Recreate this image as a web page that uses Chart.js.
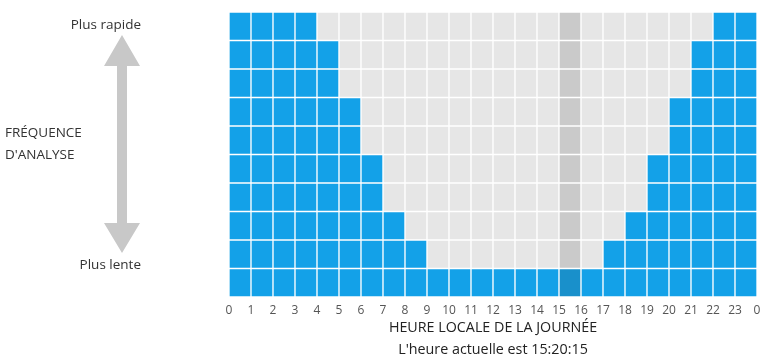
<!DOCTYPE html>
<html>
<head>
<meta charset="utf-8">
<script src="https://cdn.jsdelivr.net/npm/chart.js@4"></script>
<style>
  html, body { margin: 0; padding: 0; background: #fff; }
  #wrap { width: 772px; height: 359px; }
</style>
</head>
<body>
<div id="wrap"><canvas id="chart" width="772" height="359"></canvas></div>
<script>
// heures 0..23 et niveau de fréquence (nombre de cases bleues) pour chaque heure
const hours = [0, 1, 2, 3, 4, 5, 6, 7, 8, 9, 10, 11, 12, 13, 14, 15, 16, 17, 18, 19, 20, 21, 22, 23];
const scanLevels = [10, 10, 10, 10, 9, 7, 5, 3, 2, 1, 1, 1, 1, 1, 1, 1, 1, 2, 3, 5, 7, 9, 10, 10];
const tickLabels = ['0', '1', '2', '3', '4', '5', '6', '7', '8', '9', '10', '11', '12', '13', '14', '15', '16', '17', '18', '19', '20', '21', '22', '23', '0'];
const rowCount = 10;
const currentHour = 15;
const axisTitle = ['HEURE LOCALE DE LA JOURNÉE', "L'heure actuelle est 15:20:15"];

const FONT = "'Open Sans', 'Noto Sans', sans-serif";

// une série par rangée de cases
const datasets = [];
for (let r = 0; r < rowCount; r++) {
  datasets.push({
    data: hours.map(h => ({ x: h + 0.5, y: 1 })),
    backgroundColor: hours.map(h => {
      const on = r < scanLevels[h];
      if (h === currentHour) return on ? '#1990cb' : '#cacaca';
      return on ? '#13a1e8' : '#e6e6e6';
    }),
    borderColor: hours.map(h => (r < scanLevels[h] ? 'rgba(255,255,255,0.6)' : 'rgba(255,255,255,0.9)')),
    borderWidth: 1,
    borderSkipped: false,
    barPercentage: 1,
    categoryPercentage: 1,
  });
}

// texte, flèche à gauche et titre de l'axe
const labelsPlugin = {
  id: 'labelsPlugin',
  afterDraw(chart) {
    const ctx = chart.ctx;
    const area = chart.chartArea;
    ctx.save();
    ctx.fillStyle = '#333';
    ctx.font = '13.5px ' + FONT;
    ctx.textBaseline = 'middle';
    ctx.textAlign = 'right';
    ctx.fillText('Plus rapide', 141, 25);
    ctx.fillText('Plus lente', 141, 265);
    ctx.textAlign = 'left';
    ctx.fillText('FRÉQUENCE', 5, 133);
    ctx.fillText("D'ANALYSE", 5, 155);

    // titre sous l'axe des heures
    ctx.textAlign = 'center';
    ctx.fillStyle = '#222';
    ctx.font = '14.3px ' + FONT;
    const mid = (area.left + area.right) / 2;
    ctx.fillText(axisTitle[0], mid, area.bottom + 31);
    ctx.fillText(axisTitle[1], mid, area.bottom + 53);

    // flèche double
    const cx = 122;
    ctx.fillStyle = '#c8c8c8';
    ctx.beginPath();
    ctx.moveTo(cx, 35);
    ctx.lineTo(cx + 18, 66);
    ctx.lineTo(cx + 5, 66);
    ctx.lineTo(cx + 5, 223);
    ctx.lineTo(cx + 18, 223);
    ctx.lineTo(cx, 253);
    ctx.lineTo(cx - 18, 223);
    ctx.lineTo(cx - 5, 223);
    ctx.lineTo(cx - 5, 66);
    ctx.lineTo(cx - 18, 66);
    ctx.closePath();
    ctx.fill();
    ctx.restore();
  }
};

new Chart(document.getElementById('chart'), {
  type: 'bar',
  data: { datasets },
  options: {
    responsive: false,
    animation: false,
    layout: { padding: { left: 229, right: 15, top: 12, bottom: 35.6 } },
    plugins: {
      legend: { display: false },
      tooltip: { enabled: false },
    },
    scales: {
      x: {
        type: 'linear',
        stacked: true,
        offset: false,
        min: 0,
        max: 24,
        grid: { display: false, drawTicks: false },
        border: { display: false },
        ticks: {
          stepSize: 1,
          autoSkip: false,
          maxRotation: 0,
          padding: 6,
          color: '#555',
          font: { family: FONT, size: 12 },
          callback: (v) => tickLabels[v],
        },
      },
      y: {
        stacked: true,
        display: false,
        min: 0,
        max: rowCount,
      },
    },
  },
  plugins: [labelsPlugin],
});
</script>
</body>
</html>
